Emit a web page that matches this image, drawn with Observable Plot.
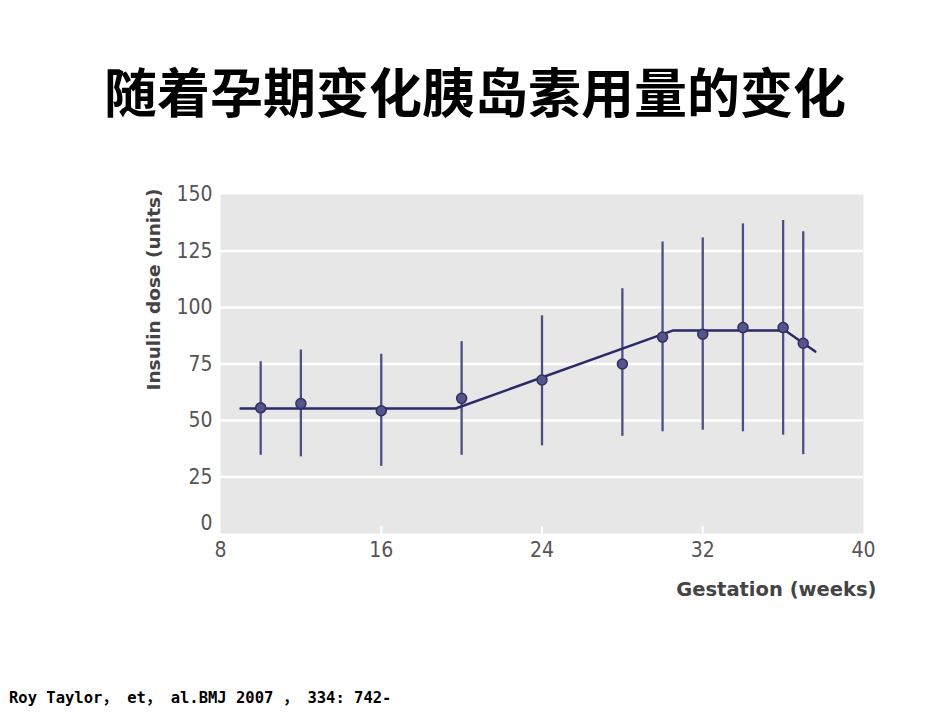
<!DOCTYPE html>
<html><head><meta charset="utf-8">
<script src="https://cdn.jsdelivr.net/npm/d3@7"></script>
<script src="https://cdn.jsdelivr.net/npm/@observablehq/plot@0.6"></script>
<style>
body{margin:0;background:#fff;}
#page{position:relative;width:950px;height:713px;overflow:hidden;background:#fff;}
#title{position:absolute;left:0;top:64px;width:950px;text-align:center;font-family:"Noto Sans CJK SC";font-weight:bold;font-size:53px;line-height:53px;color:#000;white-space:nowrap;}
#chart{position:absolute;left:0;top:150px;}
#cite{position:absolute;left:9px;top:688px;font-family:"DejaVu Sans Mono","Noto Sans CJK SC";font-weight:bold;font-size:15.5px;line-height:20px;color:#000;white-space:nowrap;}
</style></head>
<body><div id="page"><div id="title">随着孕期变化胰岛素用量的变化</div><div id="chart"></div><div id="cite">Roy Taylor， et， al.BMJ 2007 ， 334: 742-</div></div>
<script>
const weeks = [10, 12, 16, 20, 24, 28, 30, 32, 34, 36, 37];
const meanDose = [55.6, 57.5, 54.3, 59.8, 67.9, 75.0, 86.9, 88.2, 91.1, 91.1, 84.2];
const lowerDose = [34.6, 33.9, 29.7, 34.6, 38.8, 43.0, 45.0, 45.7, 45.0, 43.5, 34.9];
const upperDose = [76.0, 81.2, 79.3, 84.9, 96.3, 108.3, 129.0, 130.8, 137.0, 138.5, 133.5];
const fitWeeks = [9, 19.7, 30.5, 36.1, 37.6];
const fitDose = [55.3, 55.3, 89.8, 89.8, 80.5];
const xTicks = [8, 16, 24, 32, 40];
const yTicks = [0, 25, 50, 75, 100, 125, 150];
const xLabel = "Gestation (weeks)";
const yLabel = "Insulin dose (units)";

const data = weeks.map((w, i) => ({week: w, mean: meanDose[i], lo: lowerDose[i], hi: upperDose[i]}));
const fit = fitWeeks.map((w, i) => ({week: w, dose: fitDose[i]}));

const chart = Plot.plot({
  width: 950, height: 470,
  marginTop: 44, marginBottom: 87, marginLeft: 220, marginRight: 87,
  x: {domain: [8, 40]},
  y: {domain: [0, 150]},
  style: {fontFamily: "'DejaVu Sans Condensed', 'DejaVu Sans'", fontSize: "21px", color: "#555", background: "transparent"},
  marks: [
    Plot.frame({fill: "#e7e7e7", stroke: null}),
    Plot.gridY(yTicks.slice(1, -1), {stroke: "white", strokeOpacity: 1, strokeWidth: 2.5}),
    Plot.axisX(xTicks.slice(1, -1), {anchor: "bottom", tickSize: 7, dy: -7, tickFormat: () => "", stroke: "white", strokeWidth: 2, label: null}),
    Plot.axisX(xTicks, {anchor: "bottom", tickSize: 0, tickPadding: 9, label: null}),
    Plot.axisY(yTicks.slice(1), {anchor: "left", tickSize: 0, tickPadding: 8, label: null}),
    Plot.axisY(yTicks.slice(0, 1), {anchor: "left", tickSize: 0, tickPadding: 8, dy: -10, label: null}),
    Plot.ruleX(data, {x: "week", y1: "lo", y2: "hi", stroke: "#4e4e86", strokeWidth: 2.3}),
    Plot.line(fit, {x: "week", y: "dose", stroke: "#2a2a6a", strokeWidth: 2.5}),
    Plot.dot(data, {x: "week", y: "mean", r: 5, fill: "#55558c", stroke: "#2f2f60", strokeWidth: 1.5}),
    Plot.text([yLabel], {frameAnchor: "top-left", rotate: -90, textAnchor: "end", dx: -74, dy: -6, fontFamily: "'DejaVu Sans'", fontWeight: "bold", fontSize: 18.5, fill: "#444"}),
    Plot.text([xLabel], {frameAnchor: "bottom-right", textAnchor: "end", dx: 13, dy: 62, fontFamily: "'DejaVu Sans'", fontWeight: "bold", fontSize: 19.5, fill: "#444"})
  ]
});
document.getElementById("chart").appendChild(chart);
</script>
</body></html>
